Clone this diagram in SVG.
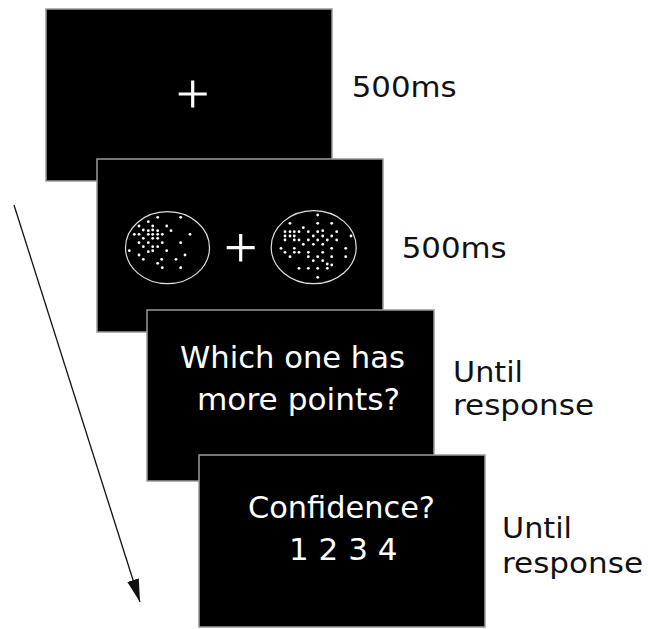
<svg xmlns="http://www.w3.org/2000/svg" width="648" height="629" viewBox="0 0 648 629">
<style>
.scr{fill:#000;stroke:#9a9a9a;stroke-width:1.5}
.plus{stroke:#fff;stroke-width:3.2;fill:none}
.ell{fill:none;stroke:#e0e0e0;stroke-width:1.2}
.dot{fill:#fff}
.in{font-family:"DejaVu Sans","Bitstream Vera Sans",sans-serif;fill:#fff;font-size:31px}
.lbl{font-family:"DejaVu Sans","Bitstream Vera Sans",sans-serif;fill:#111;font-size:28px}
</style>
<defs>
<marker id="ah" markerUnits="userSpaceOnUse" markerWidth="24" markerHeight="13" refX="23" refY="6" orient="auto">
<path d="M0,0 L23,6 L0,12 z" fill="#111"/>
</marker>
</defs>
<rect width="648" height="629" fill="#fff"/>

<g id="screen1">
<rect class="scr" x="46" y="9" width="286" height="172"/>
<path class="plus" d="M178.7,94 H206.7 M192.7,80.5 V107.5"/>
</g>
<text class="lbl" x="351.7" y="97.3" textLength="105" lengthAdjust="spacingAndGlyphs">500ms</text>

<g id="screen2">
<rect class="scr" x="97" y="159" width="286" height="173"/>
<path class="plus" d="M226.7,247.7 H254.7 M240.7,234 V261.5"/>
<ellipse class="ell" cx="167.5" cy="247.7" rx="42" ry="36"/>
<ellipse class="ell" cx="313.7" cy="247.2" rx="42.5" ry="36.5"/>
<g class="dot">
<circle cx="157.7" cy="217.3" r="1.4"/><circle cx="180.7" cy="217.3" r="1.4"/><circle cx="148.3" cy="221.7" r="1.4"/>
<circle cx="139" cy="226" r="1.4"/><circle cx="152.7" cy="226" r="1.4"/><circle cx="166.7" cy="226" r="1.4"/>
<circle cx="143.3" cy="230" r="1.4"/><circle cx="148.3" cy="230.7" r="1.4"/><circle cx="152.7" cy="230" r="1.4"/>
<circle cx="157.7" cy="230.7" r="1.4"/><circle cx="171" cy="230.7" r="1.4"/><circle cx="134.3" cy="234.3" r="1.4"/>
<circle cx="139" cy="234.3" r="1.4"/><circle cx="148.3" cy="234.3" r="1.4"/><circle cx="152.7" cy="234.3" r="1.4"/>
<circle cx="157.7" cy="234.3" r="1.4"/><circle cx="162.3" cy="234.3" r="1.4"/><circle cx="190" cy="234.3" r="1.4"/>
<circle cx="143.3" cy="238.3" r="1.4"/><circle cx="152.7" cy="238.3" r="1.4"/><circle cx="157.7" cy="238.3" r="1.4"/>
<circle cx="139" cy="242.7" r="1.4"/><circle cx="148.3" cy="242.7" r="1.4"/><circle cx="162.3" cy="242.7" r="1.4"/>
<circle cx="180.7" cy="242.7" r="1.4"/><circle cx="143.3" cy="246.7" r="1.4"/><circle cx="152.7" cy="246.7" r="1.4"/>
<circle cx="157.7" cy="246.7" r="1.4"/><circle cx="129.3" cy="250.7" r="1.4"/><circle cx="148.3" cy="251.7" r="1.4"/>
<circle cx="152.7" cy="250.7" r="1.4"/><circle cx="166.7" cy="250.7" r="1.4"/><circle cx="139" cy="255" r="1.4"/>
<circle cx="185" cy="255" r="1.4"/><circle cx="143.3" cy="259.3" r="1.4"/><circle cx="161.7" cy="259.3" r="1.4"/>
<circle cx="176" cy="259.3" r="1.4"/><circle cx="157.7" cy="263.3" r="1.4"/><circle cx="180.7" cy="267.7" r="1.4"/>
<circle cx="162.3" cy="267.7" r="1.4"/>
<circle cx="317.7" cy="215" r="1.4"/><circle cx="290" cy="223.3" r="1.4"/><circle cx="317.7" cy="223.3" r="1.4"/>
<circle cx="331.7" cy="223.3" r="1.4"/><circle cx="303.3" cy="227.7" r="1.4"/><circle cx="285" cy="231.7" r="1.4"/>
<circle cx="290" cy="231.7" r="1.4"/><circle cx="294.3" cy="231.7" r="1.4"/><circle cx="299" cy="231.7" r="1.4"/>
<circle cx="308.3" cy="231.7" r="1.4"/><circle cx="317.7" cy="231.7" r="1.4"/><circle cx="322.7" cy="230.7" r="1.4"/>
<circle cx="336.7" cy="231.7" r="1.4"/><circle cx="285" cy="236" r="1.4"/><circle cx="290" cy="236" r="1.4"/>
<circle cx="294.3" cy="236" r="1.4"/><circle cx="313.3" cy="236" r="1.4"/><circle cx="322.7" cy="236" r="1.4"/>
<circle cx="331.7" cy="236" r="1.4"/><circle cx="351" cy="236" r="1.4"/><circle cx="285" cy="240" r="1.4"/>
<circle cx="294.3" cy="240" r="1.4"/><circle cx="299" cy="240" r="1.4"/><circle cx="308.3" cy="240" r="1.4"/>
<circle cx="317.7" cy="240" r="1.4"/><circle cx="327.3" cy="240" r="1.4"/><circle cx="336.7" cy="240" r="1.4"/>
<circle cx="281" cy="248.3" r="1.4"/><circle cx="294.3" cy="248.3" r="1.4"/><circle cx="303.3" cy="244.3" r="1.4"/>
<circle cx="313.3" cy="244.3" r="1.4"/><circle cx="322.7" cy="244.3" r="1.4"/><circle cx="331.7" cy="248.3" r="1.4"/>
<circle cx="345.7" cy="248.3" r="1.4"/><circle cx="285" cy="252.3" r="1.4"/><circle cx="294.3" cy="252.3" r="1.4"/>
<circle cx="299" cy="252.3" r="1.4"/><circle cx="308.3" cy="252.3" r="1.4"/><circle cx="322.7" cy="252.3" r="1.4"/>
<circle cx="290" cy="256.7" r="1.4"/><circle cx="308.3" cy="256.7" r="1.4"/><circle cx="317.7" cy="256.7" r="1.4"/>
<circle cx="331.7" cy="256.7" r="1.4"/><circle cx="345.7" cy="256.7" r="1.4"/><circle cx="313.3" cy="260.7" r="1.4"/>
<circle cx="322.7" cy="260.7" r="1.4"/><circle cx="327.3" cy="264" r="1.4"/><circle cx="299" cy="268.3" r="1.4"/>
<circle cx="308.3" cy="268.3" r="1.4"/><circle cx="317.7" cy="268.3" r="1.4"/><circle cx="327.3" cy="268.3" r="1.4"/>
<circle cx="331.7" cy="265" r="1.4"/><circle cx="317.7" cy="277.3" r="1.4"/>
</g>
</g>
<text class="lbl" x="401.7" y="258.3" textLength="105" lengthAdjust="spacingAndGlyphs">500ms</text>

<g id="screen3">
<rect class="scr" x="147" y="310" width="287" height="171"/>
<text class="in" x="180" y="368" textLength="225" lengthAdjust="spacingAndGlyphs">Which one has</text>
<text class="in" x="197" y="410" textLength="203" lengthAdjust="spacingAndGlyphs">more points?</text>
</g>
<text class="lbl" x="453" y="382" textLength="70" lengthAdjust="spacingAndGlyphs">Until</text>
<text class="lbl" x="453" y="415" textLength="141" lengthAdjust="spacingAndGlyphs">response</text>

<g id="screen4">
<rect class="scr" x="199" y="455" width="286" height="172"/>
<text class="in" x="248" y="518" textLength="187" lengthAdjust="spacingAndGlyphs">Confidence?</text>
<text class="in" x="289" y="560">1 2 3 4</text>
</g>
<text class="lbl" x="502" y="538" textLength="70" lengthAdjust="spacingAndGlyphs">Until</text>
<text class="lbl" x="502" y="573" textLength="141" lengthAdjust="spacingAndGlyphs">response</text>

<g id="connectors">
<line x1="14" y1="205" x2="140" y2="602" stroke="#111" stroke-width="1.3" marker-end="url(#ah)"/>
</g>
</svg>
